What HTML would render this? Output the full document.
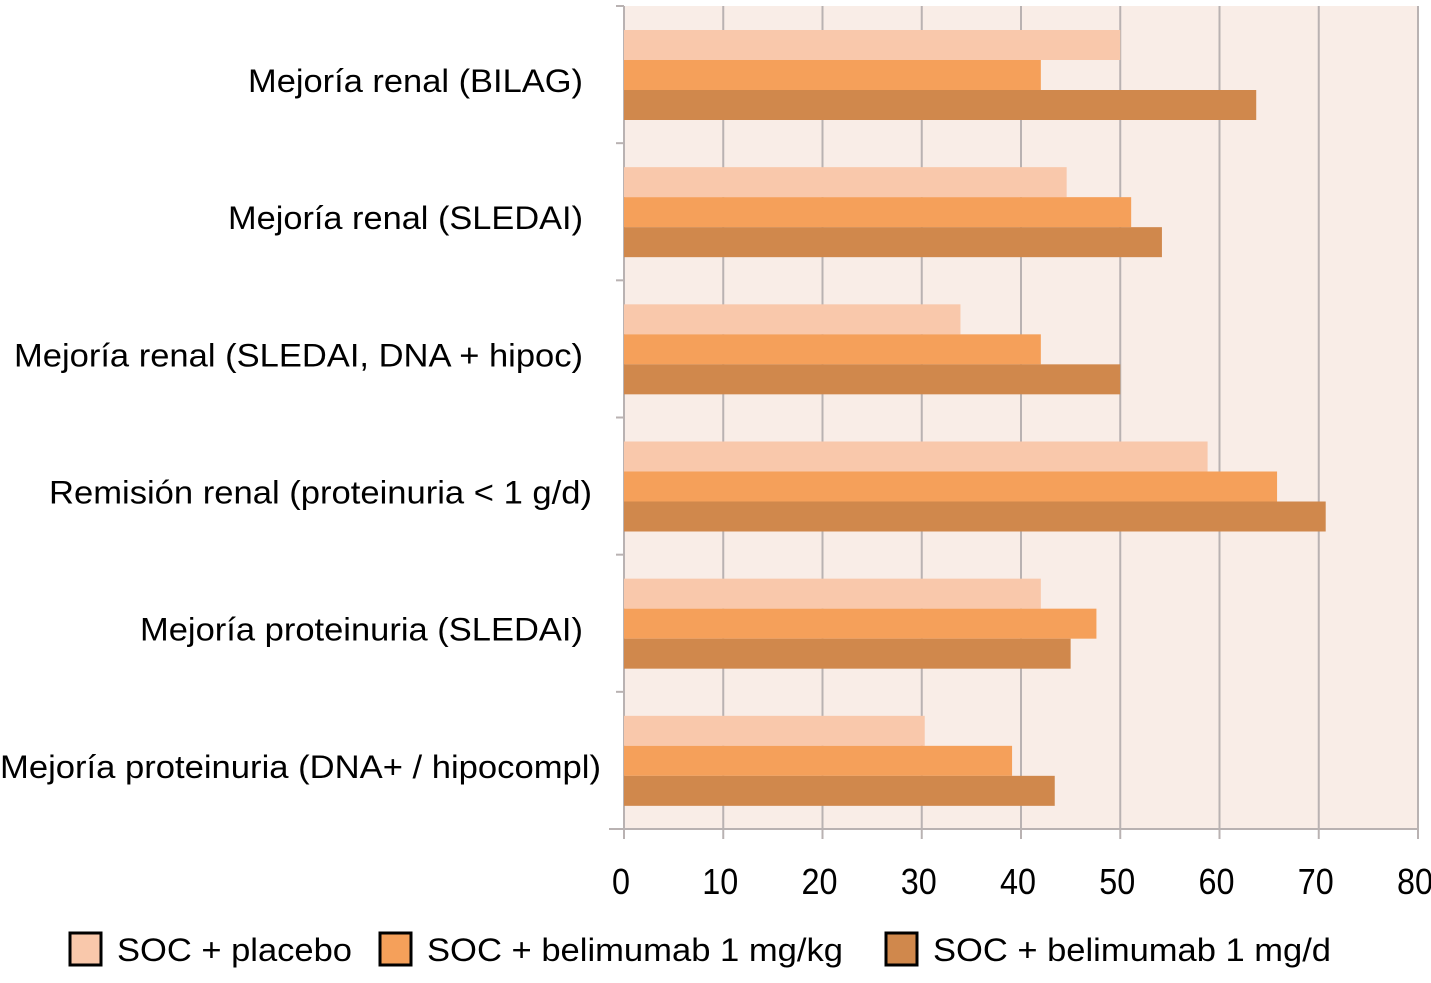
<!DOCTYPE html>
<html><head><meta charset="utf-8"><style>
body{margin:0;background:#fff;}
svg text{font-family:"Liberation Sans",Arial,sans-serif;fill:#000;}
</style></head><body>
<svg width="1431" height="978" viewBox="0 0 1431 978">
<g id="plot"></g>
</svg>
<script>
const categories=["Mejoría renal (BILAG)","Mejoría renal (SLEDAI)","Mejoría renal (SLEDAI, DNA + hipoc)","Remisión renal (proteinuria < 1 g/d)","Mejoría proteinuria (SLEDAI)","Mejoría proteinuria (DNA+ / hipocompl)"];
const placebo=[50,44.6,33.9,58.8,42,30.3];
const bel1mgkg=[42,51.1,42,65.8,47.6,39.1];
const bel1mgd=[63.7,54.2,50,70.7,45,43.4];
const ticks=[0,10,20,30,40,50,60,70,80];
const seriesNames=["SOC + placebo","SOC + belimumab 1 mg/kg","SOC + belimumab 1 mg/d"];
const labelRight=[583,583,583,592,583,601];
const labelWidth=[335,355,569,543,443,601];
const legendWidth=[235,416,398];

const NS="http://www.w3.org/2000/svg";
const g=document.getElementById('plot');
const X0=624,X1=1418,Y0=6,Y1=829;
const xs=v=>X0+(v-0)/(80-0)*(X1-X0);
const band=(Y1-Y0)/categories.length;
function el(t,a){const e=document.createElementNS(NS,t);for(const k in a)e.setAttribute(k,a[k]);g.appendChild(e);return e;}
let bg=el('rect',{x:X0,y:Y0,width:X1-X0,height:Y1-Y0,fill:'#f9ede7'});


ticks.forEach((t,i)=>{
  if(i>0){let l=el('line',{x1:xs(t),x2:xs(t),y1:Y0,y2:Y1,stroke:'#b9b2b2','stroke-width':2});
  
  }
  let tk=el('line',{x1:xs(t),x2:xs(t),y1:Y1,y2:Y1+10,stroke:'#b9b2b2','stroke-width':2});
  
  
  let tx=el('text',{x:xs(t)-3,y:894,'font-size':36,'text-anchor':'middle',textLength:String(t).length*18,lengthAdjust:'spacingAndGlyphs'});
  tx.textContent=t;
  
  
});
let ax=el('line',{x1:X0-15,x2:X1,y1:Y1,y2:Y1,stroke:'#b9b2b2','stroke-width':2});


let ay=el('line',{x1:X0,x2:X0,y1:Y0,y2:Y1,stroke:'#b9b2b2','stroke-width':2});


for(let i=0;i<=categories.length;i++){
  let t=el('line',{x1:X0-8,x2:X0,y1:Y0+i*band,y2:Y0+i*band,stroke:'#b9b2b2','stroke-width':2});
  
  
}
const colors=['#f9c8ab','#f5a05a','#d0884c'];
const series=[placebo,bel1mgkg,bel1mgd];
categories.forEach((c,i)=>{
  const top=Y0+i*band+24;
  series.forEach((s,j)=>{
    let r=el('rect',{x:X0,y:top+j*30,width:xs(s[i])-X0,height:30,fill:colors[j]});
    
    
  });
  let t=el('text',{x:labelRight[i]-labelWidth[i],y:Y0+i*band+86,'font-size':32,textLength:labelWidth[i],lengthAdjust:'spacingAndGlyphs'});
  t.textContent=c;
  
  
});
const legX=[70,380,886];
seriesNames.forEach((n,j)=>{
  let r=el('rect',{x:legX[j],y:933,width:31,height:32,fill:colors[j],stroke:'#000','stroke-width':3});
  
  
  let t=el('text',{x:legX[j]+47,y:961,'font-size':32,textLength:legendWidth[j],lengthAdjust:'spacingAndGlyphs'});
  t.textContent=n;
  
  
});
</script>
</body></html>
